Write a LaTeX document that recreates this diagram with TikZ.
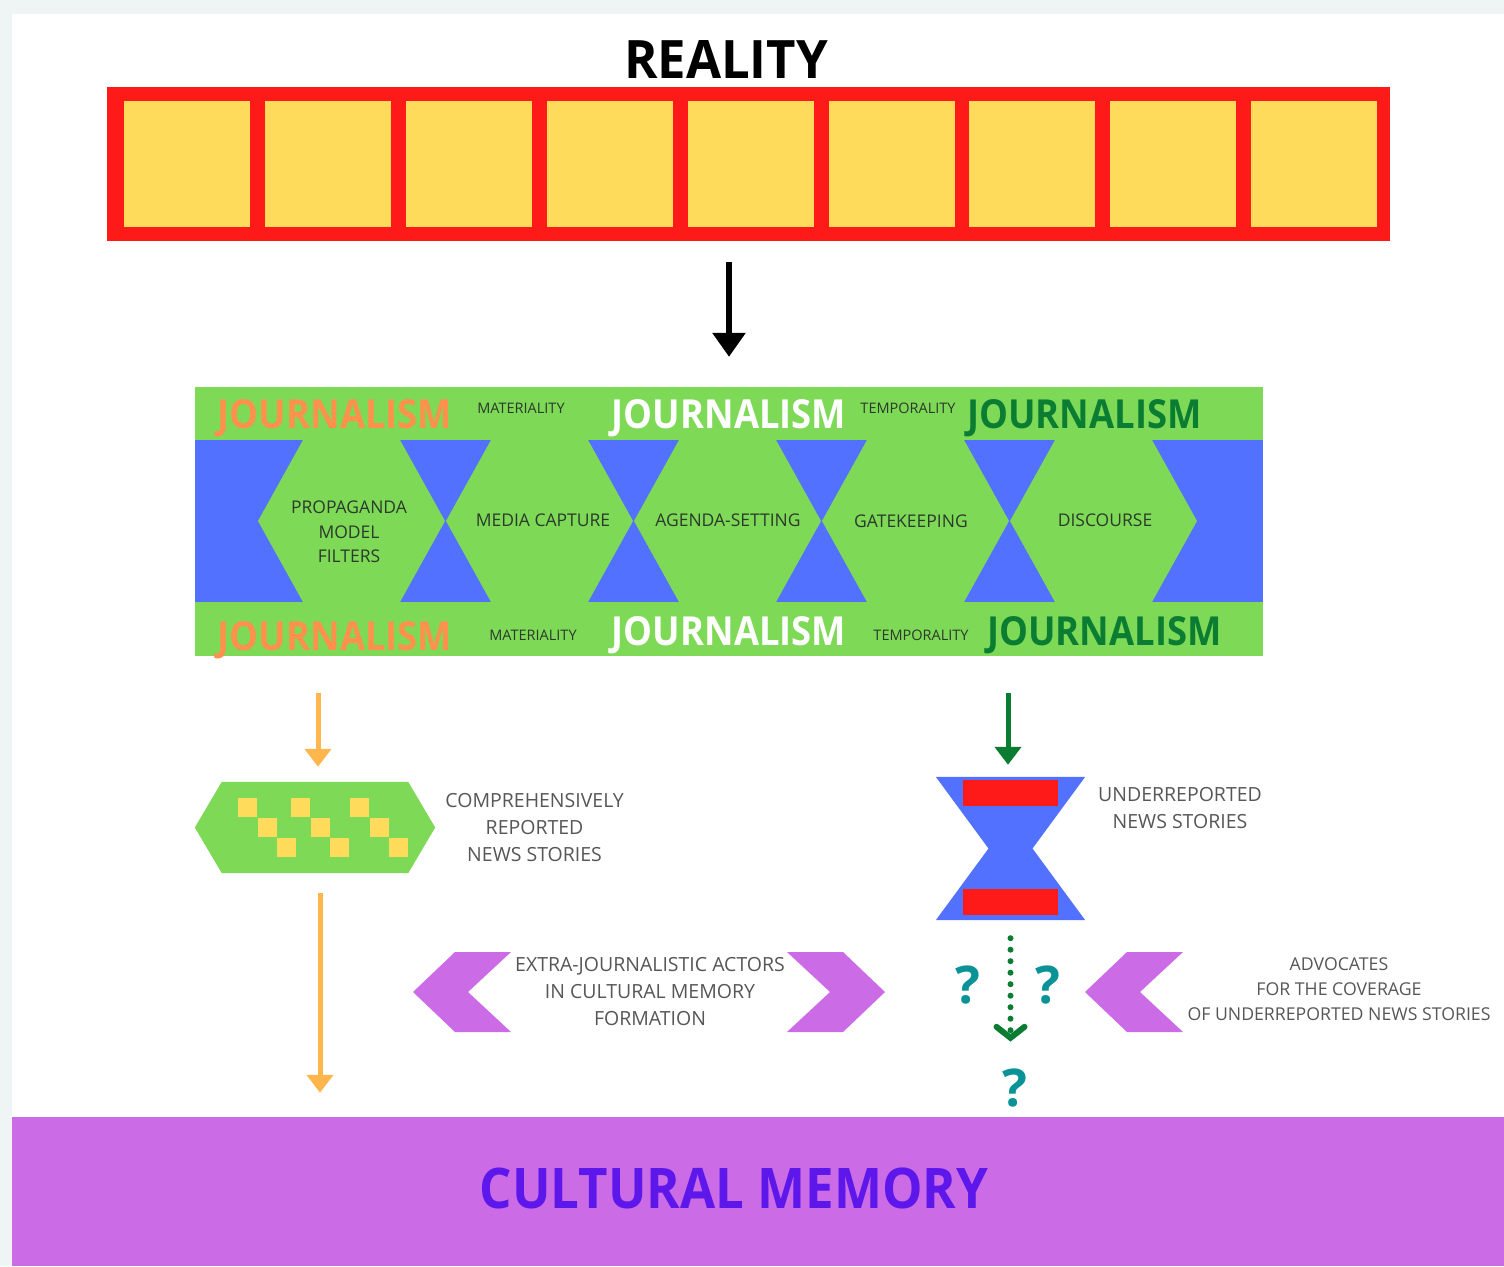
\documentclass[tikz,border=0pt]{standalone}
\usepackage{fontspec}
\setmainfont{Open Sans}
\newfontfamily\headfont{Open Sans}[FakeStretch=0.91]
\newfontfamily\titlefont{Open Sans}[FakeStretch=0.96]
\usetikzlibrary{arrows.meta,positioning}
\definecolor{realred}{HTML}{FF1A1A}
\definecolor{boxyellow}{HTML}{FFDB5C}
\definecolor{bandgreen}{HTML}{7ED957}
\definecolor{bandblue}{HTML}{5271FF}
\definecolor{jorange}{HTML}{FF914D}
\definecolor{jgreen}{HTML}{0B7D33}
\definecolor{arroworange}{HTML}{FFB74D}
\definecolor{memorypurple}{HTML}{CB6CE6}
\definecolor{memoryink}{HTML}{5E17EB}
\definecolor{quteal}{HTML}{0A9396}
\definecolor{pagegray}{HTML}{EFF4F4}
\definecolor{labelgray}{HTML}{575757}
\definecolor{hexink}{HTML}{2B3A2B}
\tikzset{
  journo/.style={font=\headfont\bfseries\fontsize{40}{40}\selectfont, inner sep=0pt, anchor=base},
  tinyword/.style={font=\fontsize{14.5}{14.5}\selectfont, text=hexink, inner sep=0pt},
  hexlabel/.style={font=\fontsize{17.5}{24.5}\selectfont, text=hexink, align=center, inner sep=0pt},
  sidelabel/.style={font=\fontsize{19.5}{27}\selectfont, text=labelgray, align=center, inner sep=0pt},
  flow/.style={line width=5pt, -{Triangle[width=26pt,length=18pt]}},
  qmark/.style={font=\bfseries\fontsize{52}{52}\selectfont, text=quteal, inner sep=0pt},
  chevron/.pic={\fill[memorypurple] (0,0) -- (42,-40) -- (98,-40) -- (55,0) -- (98,40) -- (42,40) -- cycle;}
}

\begin{document}
\begin{tikzpicture}[x=1pt, y=-1pt]
\useasboundingbox (0,0) rectangle (1504,1266);
\fill[pagegray] (0,0) rectangle (1504,1266);
\fill[white] (12,14) rectangle (1504,1266);

\node[font=\titlefont\bfseries\fontsize{53}{53}\selectfont, anchor=base, inner sep=0pt] (reality) at (726,78) {REALITY};
\node[fill=realred, minimum width=1283pt, minimum height=154pt, inner sep=0pt] (strip) at (748.5,164) {};
\foreach \i in {0,...,8}
  \fill[boxyellow] ({124+\i*140.9},101) rectangle ++(126,126);

\node[fill=bandgreen, minimum width=1068pt, minimum height=269pt, inner sep=0pt] (band) at (729,521.5) {};
\fill[bandblue] (195,440) rectangle (1263,602);
\foreach \c in {351.5,539.5,727.5,915.5,1103.5}
  \fill[bandgreen] ({\c-93.5},521) -- ({\c-48.5},440) -- ({\c+48.5},440) -- ({\c+93.5},521)
    -- ({\c+48.5},602) -- ({\c-48.5},602) -- cycle;
\draw[line width=6pt, -{Triangle[width=32pt,length=24pt]}, shorten <=21pt, shorten >=30pt]
  (strip.south -| band.north) -- (band.north);

\node[hexlabel] (propaganda) at (349,532) {PROPAGANDA\\MODEL\\FILTERS};
\node[hexlabel] (capture) at (543,520) {MEDIA CAPTURE};
\node[hexlabel] (agenda) at (728,520) {AGENDA-SETTING};
\node[hexlabel] (gatekeeping) at (911,521) {GATEKEEPING};
\node[hexlabel] (discourse) at (1105,520) {DISCOURSE};

\node[journo, text=jorange] (jtopa) at (335,428) {JOURNALISM};
\node[journo, text=white] (jtopb) at (729,428) {JOURNALISM};
\node[journo, text=jgreen] (jtopc) at (1084.5,428) {JOURNALISM};
\node[journo, text=jorange] (jbota) at (335,650) {JOURNALISM};
\node[journo, text=white] (jbotb) at (729,645) {JOURNALISM};
\node[journo, text=jgreen] (jbotc) at (1104.5,645) {JOURNALISM};
\node[tinyword] (mattop) at (521,408) {MATERIALITY};
\node[tinyword] (tempotop) at (908,408) {TEMPORALITY};
\node[tinyword] (matbot) at (533,635) {MATERIALITY};
\node[tinyword] (tempobot) at (921,635) {TEMPORALITY};

\node[minimum width=240pt, minimum height=91pt, inner sep=0pt] (compre) at (315,827.5) {};
\fill[bandgreen] (compre.west) -- ([xshift=27pt]compre.north west) -- ([xshift=-27pt]compre.north east)
  -- (compre.east) -- ([xshift=-27pt]compre.south east) -- ([xshift=27pt]compre.south west) -- cycle;
\foreach \gx in {238,291,350}
  \foreach \k in {0,1,2}
    \fill[boxyellow] ({\gx+\k*19.5},{798+\k*20}) rectangle ++(19,19);
\node[sidelabel, right=10pt of compre] (comprelabel) {COMPREHENSIVELY\\REPORTED\\NEWS STORIES};

\node[minimum width=149pt, minimum height=143pt, inner sep=0pt] (hourglass) at (1010.5,848.5) {};
\fill[bandblue] (hourglass.north west) -- (hourglass.north east) -- ([xshift=22pt]hourglass.center)
  -- (hourglass.south east) -- (hourglass.south west) -- ([xshift=-22pt]hourglass.center) -- cycle;
\fill[realred] (963,780) rectangle (1058,806);
\fill[realred] (963,889) rectangle (1058,915);
\node[sidelabel] (underlabel) at (1180,808) {UNDERREPORTED\\NEWS STORIES};

\node[fill=memorypurple, minimum width=1492pt, minimum height=149pt, inner sep=0pt] (memory) at (758,1191.5) {};
\node[font=\headfont\bfseries\fontsize{56}{56}\selectfont, text=memoryink, inner sep=0pt] (memorytext) at (734,1188) {CULTURAL MEMORY};

\draw[flow, arroworange, shorten <=37pt, shorten >=15pt] ([xshift=3pt]band.south -| compre.north) -- ([xshift=3pt]compre.north);
\draw[flow, arroworange, shorten <=20pt, shorten >=24pt] ([xshift=5pt]compre.south) -- ([xshift=5pt]compre.south |- memory.north);
\draw[flow, jgreen, shorten <=37pt, shorten >=12pt] ([xshift=-2.5pt]band.south -| hourglass.north) -- ([xshift=-2.5pt]hourglass.north);

\node[qmark] (qleft) at (968,985) {?};
\node[qmark] (qright) at (1048,985) {?};
\node[qmark] (qdown) at (1015,1088) {?};
\draw[jgreen, line width=6pt, line cap=round, dash pattern=on 0pt off 11.5pt,
  -{Straight Barb[length=11pt,width=28pt,line width=6pt,line cap=round]}, shorten <=18pt, shorten >=27pt]
  (hourglass.south) -- (hourglass.south |- qdown.north);

\pic at (413,992) {chevron};
\pic[xscale=-1] at (885,992) {chevron};
\pic at (1085,992) {chevron};
\node[sidelabel] (actors) at (650,992) {EXTRA-JOURNALISTIC ACTORS\\IN CULTURAL MEMORY\\FORMATION};
\node[sidelabel, font=\fontsize{17.7}{25}\selectfont] (advocates) at (1339,989) {ADVOCATES\\FOR THE COVERAGE\\OF UNDERREPORTED NEWS STORIES};
\end{tikzpicture}
\end{document}
